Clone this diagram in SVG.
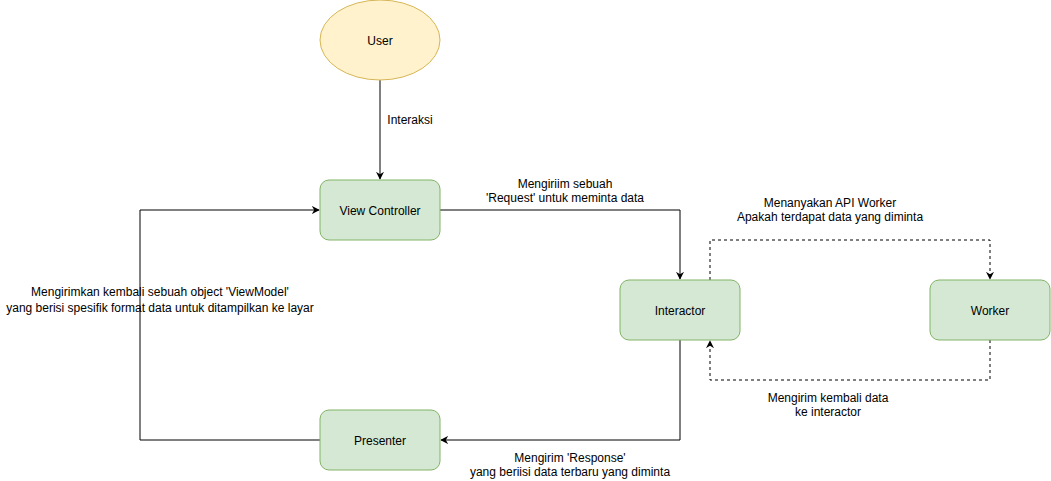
<svg xmlns="http://www.w3.org/2000/svg" width="1051" height="481" viewBox="0 0 1051 481">
<style>
.node{fill:#d5e8d4;stroke:#82b366;stroke-width:1}
.user{fill:#fff2cc;stroke:#d6b656;stroke-width:1}
.lbl{font-family:"Liberation Sans",Arial,sans-serif;font-size:12px;fill:#000;text-anchor:middle}
.edge{fill:none;stroke:#000;stroke-width:1}
.dash{stroke-dasharray:3 3}
</style>
<defs>
<marker id="arr" viewBox="0 0 10 10" refX="9" refY="5" markerWidth="8" markerHeight="8" markerUnits="userSpaceOnUse" orient="auto">
<path d="M0,0 L10,5 L0,10 L3,5 Z" fill="#000"/>
</marker>
</defs>
<rect width="1051" height="481" fill="#fff"/>
<g id="connectors">
<path class="edge" d="M380,80 L380,179" marker-end="url(#arr)"/>
<text class="lbl" x="410" y="124">Interaksi</text>
<path class="edge" d="M440,210 L680,210 L680,279" marker-end="url(#arr)"/>
<text class="lbl" x="565" y="188">Mengiriim sebuah</text>
<text class="lbl" x="565" y="202">'Request' untuk meminta data</text>
<path class="edge dash" d="M710,280 L710,240 L990,240 L990,279" marker-end="url(#arr)"/>
<text class="lbl" x="830" y="207">Menanyakan API Worker</text>
<text class="lbl" x="830" y="221">Apakah terdapat data yang diminta</text>
<path class="edge dash" d="M990,340 L990,380 L710,380 L710,341" marker-end="url(#arr)"/>
<text class="lbl" x="828" y="402">Mengirim kembali data</text>
<text class="lbl" x="828" y="416">ke interactor</text>
<path class="edge" d="M680,340 L680,440 L441,440" marker-end="url(#arr)"/>
<text class="lbl" x="570" y="462">Mengirim 'Response'</text>
<text class="lbl" x="570" y="476">yang beriisi data terbaru yang diminta</text>
<path class="edge" d="M320,440 L140,440 L140,210 L319,210" marker-end="url(#arr)"/>
<text class="lbl" x="160" y="296">Mengirimkan kembali sebuah object 'ViewModel'</text>
<text class="lbl" x="160" y="312">yang berisi spesifik format data untuk ditampilkan ke layar</text>
</g>
<g id="user">
<ellipse class="user" cx="380" cy="40" rx="60" ry="40"/>
<text class="lbl" x="380" y="45">User</text>
</g>
<g id="view-controller">
<rect class="node" x="320" y="180" width="120" height="60" rx="9"/>
<text class="lbl" x="380" y="215">View Controller</text>
</g>
<g id="interactor">
<rect class="node" x="620" y="280" width="120" height="60" rx="9"/>
<text class="lbl" x="680" y="315">Interactor</text>
</g>
<g id="worker">
<rect class="node" x="930" y="280" width="120" height="60" rx="9"/>
<text class="lbl" x="990" y="315">Worker</text>
</g>
<g id="presenter">
<rect class="node" x="320" y="410" width="120" height="60" rx="9"/>
<text class="lbl" x="380" y="445">Presenter</text>
</g>
</svg>
